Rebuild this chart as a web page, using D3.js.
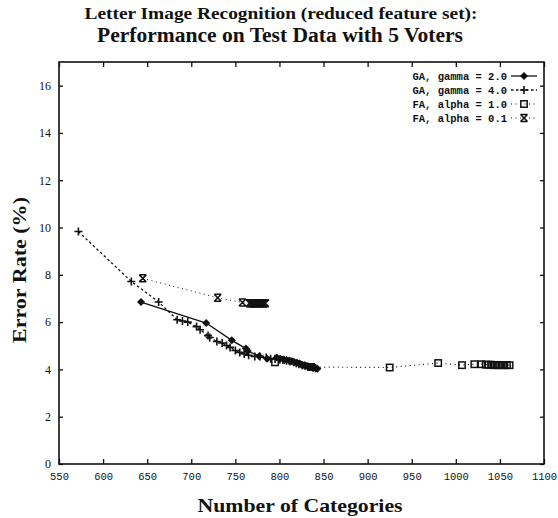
<!DOCTYPE html>
<html><head><meta charset="utf-8">
<script src="https://cdn.jsdelivr.net/npm/d3@7"></script>
<style>body{margin:0;background:#fff}svg{display:block}</style>
</head><body>
<svg id="c" width="558" height="518"></svg>
<script>
const titleLines = ["Letter Image Recognition (reduced feature set):", "Performance on Test Data with 5 Voters"];
const xTicks = [550,600,650,700,750,800,850,900,950,1000,1050,1100];
const yTicks = [0,2,4,6,8,10,12,14,16];
const seriesNames = ["GA, gamma = 2.0","GA, gamma = 4.0","FA, alpha = 1.0","FA, alpha = 0.1"];

const ga2X = [643,717,746,762,764,777,786,797,801,805,808,811,814,817,820,823,825,828,830,832,835,838,841,843];
const ga2Y = [6.85,5.96,5.23,4.88,4.78,4.56,4.45,4.5,4.45,4.42,4.4,4.38,4.35,4.3,4.28,4.25,4.2,4.18,4.15,4.12,4.1,4.08,4.05,4.03];

const ga4X = [572,632,663,684,690,696,706,710,719,721,729,735,740,744,750,755,760,765,772,778,785,790,795,800,804,808,812,816,819,822,826,829,832,835,838,841];
const ga4Y = [9.83,7.72,6.85,6.1,6.05,6.0,5.81,5.68,5.43,5.35,5.18,5.12,5.01,4.93,4.8,4.72,4.65,4.6,4.55,4.55,4.5,4.45,4.45,4.42,4.4,4.37,4.33,4.3,4.26,4.22,4.18,4.15,4.12,4.1,4.07,4.05];

const fa1X = [795,836,925,980,1007,1021,1029,1034,1037,1040,1043,1046,1049,1052,1055,1058,1061];
const fa1Y = [4.3,4.1,4.08,4.27,4.18,4.22,4.22,4.2,4.2,4.2,4.18,4.18,4.18,4.18,4.18,4.18,4.18];

const fa01X = [645,730,758,766,768,770,772,774,776,778,780,782,784];
const fa01Y = [7.85,7.03,6.83,6.8,6.8,6.8,6.8,6.8,6.8,6.8,6.8,6.8,6.8];

const ink = "#111";
const svg = d3.select("#c");
const L = 59, R = 544, T = 62, B = 464;
const x = d3.scaleLinear().domain([550,1100]).range([L,R]);
const y = d3.scaleLinear().domain([0,17]).range([B,T]);

function bold(xp, yp, size, txt, len){
  return svg.append("text").attr("x",xp).attr("y",yp).attr("text-anchor","middle")
    .attr("font-family","Liberation Serif").attr("font-weight","bold").attr("font-size",size)
    .attr("fill",ink).attr("textLength",len).attr("lengthAdjust","spacingAndGlyphs").text(txt);
}
bold(281,19,17,titleLines[0],393);
bold(280,42,20,titleLines[1],366);
bold(300,512,19.5,"Number of Categories",205);
bold(0,0,19.5,"Error Rate (%)",146).attr("transform","translate(26,270) rotate(-90)");

// axes
const gx = svg.append("g").attr("transform",`translate(0,${B})`)
  .call(d3.axisBottom(x).tickValues(xTicks).tickSize(-5).tickPadding(9).tickFormat(d3.format("d")));
gx.selectAll("text").attr("font-family","Liberation Mono").attr("font-size",10.5).attr("fill",ink);
const gxt = svg.append("g").attr("transform",`translate(0,${T})`)
  .call(d3.axisTop(x).tickValues(xTicks).tickSize(-5).tickFormat(""));
const gy = svg.append("g").attr("transform",`translate(${L},0)`)
  .call(d3.axisLeft(y).tickValues(yTicks).tickSize(-4).tickPadding(8).tickFormat(d3.format("d")));
gy.selectAll("text").attr("font-family","Liberation Serif").attr("font-size",12).attr("fill",ink);
const gyr = svg.append("g").attr("transform",`translate(${R},0)`)
  .call(d3.axisRight(y).tickValues(yTicks).tickSize(-4).tickFormat(""));
[gx,gxt,gy,gyr].forEach(g=>{
  g.select(".domain").remove();
  g.selectAll(".tick line").attr("stroke",ink).attr("stroke-width",1.3);
});
svg.append("rect").attr("x",L).attr("y",T).attr("width",R-L).attr("height",B-T)
  .attr("fill","none").attr("stroke",ink).attr("stroke-width",1.6);

// markers
function marker(g, type, cx, cy){
  if(type==="diamond"){
    g.append("path").attr("d",`M${cx},${cy-4}L${cx+4},${cy}L${cx},${cy+4}L${cx-4},${cy}Z`).attr("fill",ink);
  } else if(type==="plus"){
    g.append("path").attr("d",`M${cx-4},${cy}H${cx+4}M${cx},${cy-4}V${cy+4}`).attr("stroke",ink).attr("stroke-width",1.6).attr("fill","none");
  } else if(type==="square"){
    g.append("rect").attr("x",cx-3.2).attr("y",cy-3.2).attr("width",6.4).attr("height",6.4).attr("fill","none").attr("stroke",ink).attr("stroke-width",1.5);
  } else if(type==="star"){
    g.append("path").attr("d",`M${cx-3.5},${cy-3.5}L${cx+3.5},${cy+3.5}M${cx+3.5},${cy-3.5}L${cx-3.5},${cy+3.5}M${cx-3.5},${cy-3.5}H${cx+3.5}M${cx-3.5},${cy+3.5}H${cx+3.5}`)
      .attr("stroke",ink).attr("stroke-width",1.5).attr("fill","none");
  }
}

const series = [
  {xs:ga2X, ys:ga2Y, m:"diamond", dash:null, w:1.3},
  {xs:ga4X, ys:ga4Y, m:"plus", dash:"2.5,2.5", w:1.3},
  {xs:fa1X, ys:fa1Y, m:"square", dash:"1,3.5", w:1.2},
  {xs:fa01X, ys:fa01Y, m:"star", dash:"1,3.5", w:1.0}
];
const line = d3.line().x(d=>x(d[0])).y(d=>y(d[1]));
// draw FA 1.0 first so GA markers cover its cluster point
[2,3,1,0].forEach(k=>{
  const s = series[k];
  const pts = s.xs.map((v,i)=>[v,s.ys[i]]);
  const g = svg.append("g");
  g.append("path").attr("d",line(pts)).attr("fill","none").attr("stroke",ink)
    .attr("stroke-width",s.w).attr("stroke-dasharray",s.dash);
  pts.forEach(p=>marker(g,s.m,x(p[0]),y(p[1])));
});

// legend
const lg = svg.append("g");
seriesNames.forEach((n,i)=>{
  const yy = 76 + i*14;
  lg.append("text").attr("x",507).attr("y",yy+3.5).attr("text-anchor","end")
    .attr("font-family","Liberation Mono").attr("font-size",10.5).attr("font-weight","bold")
    .attr("fill",ink).text(n);
  const s = series[i];
  lg.append("path").attr("d",`M511,${yy}H537`).attr("stroke",ink).attr("stroke-width",s.w).attr("stroke-dasharray",s.dash).attr("fill","none");
  marker(lg,s.m,524,yy);
});
</script>
</body></html>
